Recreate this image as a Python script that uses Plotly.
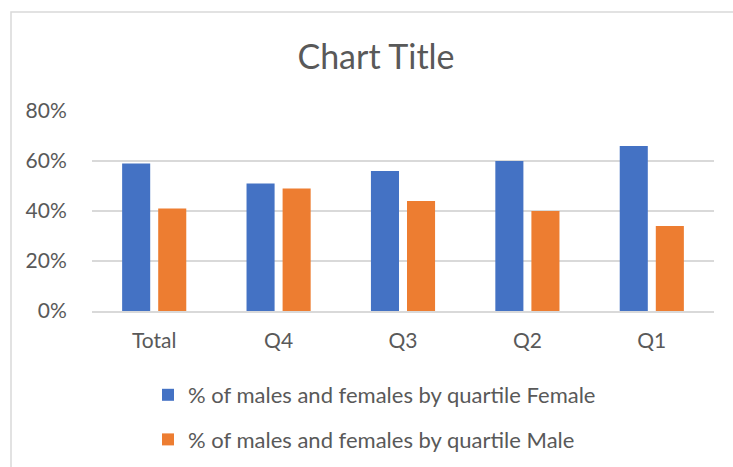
import plotly.graph_objects as go

categories = ["Total", "Q4", "Q3", "Q2", "Q1"]
female = [0.59, 0.51, 0.56, 0.60, 0.66]
male = [0.41, 0.49, 0.44, 0.40, 0.34]
series_names = ["% of males and females by quartile Female",
                "% of males and females by quartile Male"]
y_ticks = [0, 0.2, 0.4, 0.6, 0.8]
y_tick_text = ["0%", "20%", "40%", "60%", "80%"]

W, H = 733, 467
PL, PR, PT, PB = 92, 714, 111, 311
FONT = "Lato, 'Open Sans', sans-serif"
TXT = "#595959"
GRID = "#D9D9D9"

fig = go.Figure()
fig.add_trace(go.Bar(x=categories, y=female, name=series_names[0],
                     marker=dict(color="#4472C4", line=dict(width=0)),
                     legendgroup="f"))
fig.add_trace(go.Bar(x=categories, y=male, name=series_names[1],
                     marker=dict(color="#ED7D31", line=dict(width=0)),
                     legendgroup="m"))

def px_x(p):
    return (p - PL) / (PR - PL)

def px_y(p):
    return (PB - p) / (PB - PT)

fig.add_shape(type="rect", xref="paper", yref="paper",
              x0=px_x(11), x1=px_x(760), y0=px_y(500), y1=px_y(12),
              line=dict(color=GRID, width=1.5), fillcolor="rgba(0,0,0,0)",
              layer="below")

fig.update_layout(
    width=W, height=H,
    margin=dict(l=PL, r=W - PR, t=PT, b=H - PB, pad=0, autoexpand=False),
    paper_bgcolor="white", plot_bgcolor="white",
    font=dict(family=FONT, color=TXT, size=21),
    title=dict(text="Chart Title", x=376 / W, xref="container",
               xanchor="center", y=1 - 57 / H, yref="container",
               yanchor="middle", font=dict(family=FONT, size=34, color=TXT)),
    barmode="group", bargap=0.42, bargroupgap=0.222,
    showlegend=True,
    legend=dict(orientation="v", x=px_x(148), xref="paper", xanchor="left",
                y=px_y(374), yref="paper", yanchor="top",
                traceorder="grouped", tracegroupgap=13,
                font=dict(family=FONT, size=22, color=TXT),
                bgcolor="rgba(0,0,0,0)"),
)
fig.update_xaxes(showgrid=False, showline=True, linecolor=GRID, linewidth=1.5,
                 ticks="outside", ticklen=10, tickcolor="rgba(0,0,0,0)",
                 tickfont=dict(size=21, color=TXT), fixedrange=True)
fig.update_yaxes(range=[0, 0.8], tickvals=y_ticks, ticktext=y_tick_text,
                 showgrid=True, gridcolor=GRID, gridwidth=1.5, zeroline=False,
                 showline=False, ticks="outside", ticklen=20,
                 tickcolor="rgba(0,0,0,0)", tickfont=dict(size=21, color=TXT),
                 fixedrange=True)

fig.write_html("out.html", config={"displayModeBar": False},
               post_script="document.body.style.margin='0';"
                           "document.body.style.overflow='hidden';")
